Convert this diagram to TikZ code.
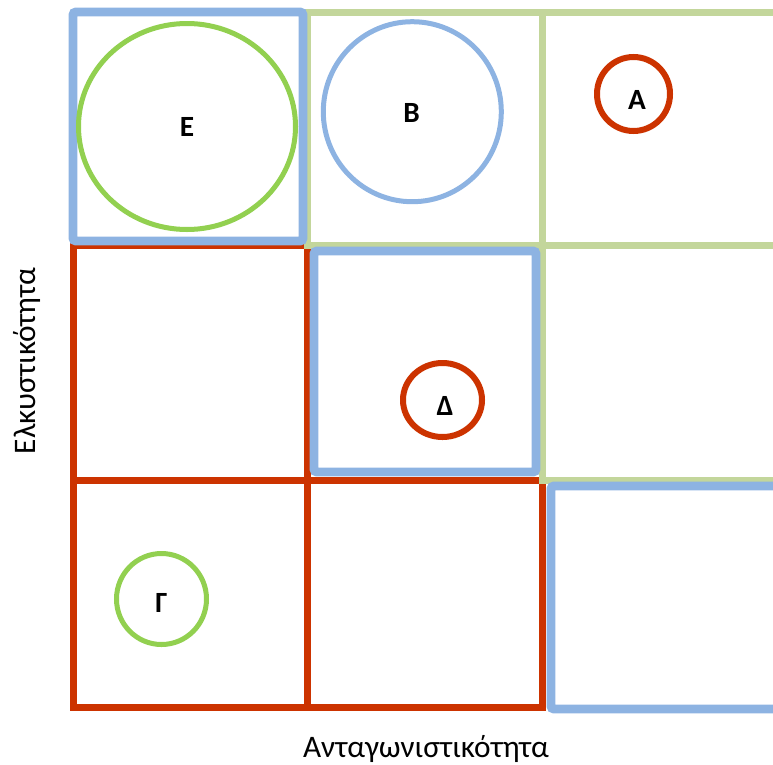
\documentclass[tikz,border=0pt]{standalone}
\usepackage{fontspec}
\setmainfont{Carlito}
\usetikzlibrary{shapes.geometric}
\definecolor{bluebox}{RGB}{141,179,226}
\definecolor{greengrid}{RGB}{195,214,155}
\definecolor{greencirc}{RGB}{146,208,80}
\definecolor{redc}{RGB}{204,51,0}
\tikzset{
  redcell/.style={draw=redc,line width=5.25pt},
  greencell/.style={draw=greengrid,line width=5.25pt},
  bluecell/.style={draw=bluebox,line width=6.5pt,rounded corners=2pt},
  circ/.style={ellipse,draw,inner sep=0pt},
  lbl/.style={font=\bfseries\fontsize{22}{26}\selectfont,inner sep=0pt},
  axislbl/.style={font=\fontsize{23.5}{28}\selectfont,inner sep=0pt}
}
\begin{document}
\begin{tikzpicture}[x=0.75pt,y=-0.75pt]
\useasboundingbox (0,0) rectangle (773,764);
\begin{scope}
\clip (0,0) rectangle (773,764);
% red grid
\draw[redcell] (73,245) rectangle (307,480);
\draw[redcell] (73,480) rectangle (307,707);
\draw[redcell] (307,480) rectangle (542,707);
% green grid
\draw[greencell] (307,12) rectangle (542,245);
\draw[greencell] (542,12) rectangle (800,245);
\draw[greencell] (542,245) rectangle (800,480);
% blue boxes
\draw[bluecell] (73,12) rectangle (303,241);
\draw[bluecell] (314,251) rectangle (536,472);
\draw[bluecell] (551,486) rectangle (800,709);
\end{scope}
% circles
\node[circ,draw=greencirc,line width=3.75pt,minimum width=217*0.75pt,minimum height=206*0.75pt] (cE) at (187,126.5) {};
\node[circ,draw=bluebox,line width=3.75pt,minimum width=178*0.75pt,minimum height=180*0.75pt] (cB) at (412.3,111.7) {};
\node[circ,draw=redc,line width=4.5pt,minimum width=73*0.75pt,minimum height=74*0.75pt] (cA) at (633.5,94) {};
\node[circ,draw=redc,line width=4.5pt,minimum width=79*0.75pt,minimum height=74*0.75pt] (cD) at (442.5,400) {};
\node[circ,draw=greencirc,line width=3.75pt,minimum width=90*0.75pt,minimum height=91*0.75pt] (cG) at (161.5,599) {};
% labels
\node[lbl] (lE) at (187,127) {Ε};
\node[lbl] (lB) at (411.5,113) {Β};
\node[lbl] (lA) at (637,100) {Α};
\node[lbl] (lD) at (445,406) {Δ};
\node[lbl] (lG) at (161.5,602.5) {Γ};
% axis labels
\node[axislbl] (xlab) at (426,749) {Ανταγωνιστικότητα};
\node[axislbl,rotate=90] (ylab) at (27,361) {Ελκυστικότητα};
\end{tikzpicture}
\end{document}
